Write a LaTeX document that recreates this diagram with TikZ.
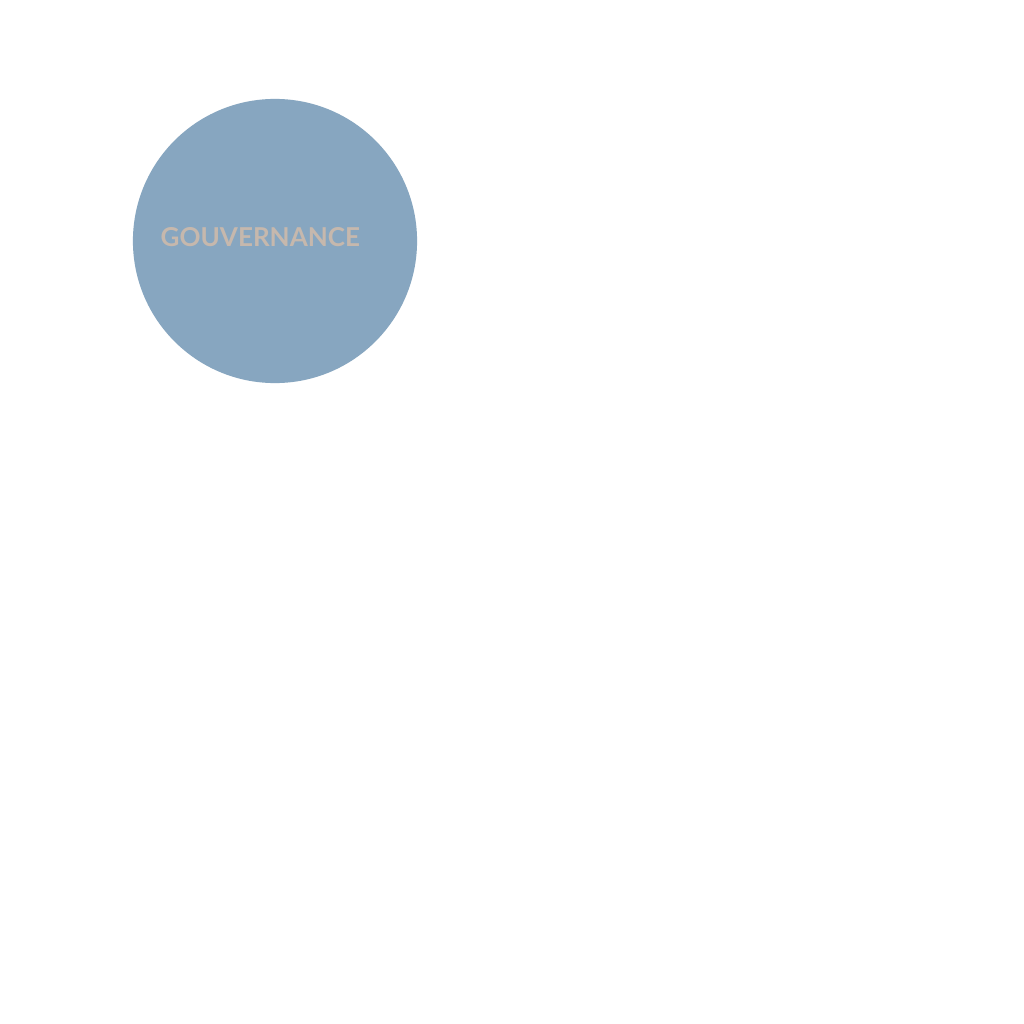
\documentclass[tikz,border=0pt]{standalone}
\usepackage{fontspec}
\setmainfont{Lato}
\definecolor{govblue}{HTML}{87A6C0}
\definecolor{govtext}{HTML}{C6B8AD}
\begin{document}
\begin{tikzpicture}[x=0.01cm,y=-0.01cm]
    \tikzstyle{bubble} = [circle, fill=govblue, draw=none, minimum size=2.84cm,
        inner sep=0pt]
    \tikzstyle{label} = [text=govtext, inner sep=0pt, anchor=west,
        font=\fontsize{7.4}{8.9}\selectfont\bfseries]

    \useasboundingbox[fill=white] (0,0) rectangle (1024,1024);

    \node(gouvernance) [bubble] at (275,241) {};
    \node(gouvlabel) [label] at (160,237) {GOUVERNANCE};
\end{tikzpicture}
\end{document}
